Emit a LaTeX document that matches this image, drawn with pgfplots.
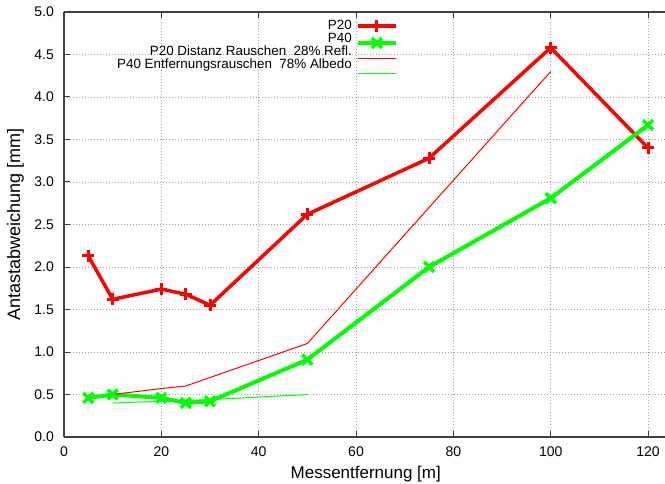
\documentclass[border=0pt]{standalone}
\usepackage{pgfplots}
\pgfplotsset{compat=1.18}
\usepackage{fontspec}
\setmainfont{Liberation Sans}
\definecolor{gpred}{RGB}{255,0,0}
\definecolor{gpgreen}{RGB}{0,255,0}
\definecolor{axgray}{RGB}{64,64,64}
\definecolor{gridgray}{RGB}{160,160,160}
\begin{document}
\begin{tikzpicture}
\begin{axis}[
  at={(0,0)}, anchor=south west, scale only axis,
  width=608.4bp, height=425bp,
  xmin=0, xmax=125, ymin=0, ymax=5,
  axis x line*=box, axis y line*=left,
  xtick={0,20,40,60,80,100,120},
  ytick={0,0.5,1,1.5,2,2.5,3,3.5,4,4.5,5},
  tick align=inside,
  major tick length=6bp,
  tick style={axgray, line width=1bp},
  axis line style={axgray, line width=1.2bp, -},
  grid=major,
  major grid style={gridgray, line width=0.8bp, dash pattern=on 1bp off 2bp},
  /pgf/number format/assume math mode=true,
  tick label style={font=\fontsize{14bp}{16bp}\selectfont},
  yticklabel style={/pgf/number format/fixed, /pgf/number format/fixed zerofill, /pgf/number format/precision=1},
  yticklabel style={anchor=east, inner sep=0pt, xshift=-10bp},
  xticklabel style={anchor=north, inner sep=0pt, yshift=-10bp},
  xlabel={Messentfernung [m]},
  ylabel={Antastabweichung [mm]},
  every axis x label/.style={at={(axis cs:62,0)}, anchor=base, yshift=-41bp, font=\fontsize{17bp}{19bp}\selectfont},
  every axis y label/.style={at={(axis description cs:-0.0723,0.5)}, rotate=90, anchor=base, font=\fontsize{18bp}{20bp}\selectfont},
  legend plot pos=left,
  legend style={at={(axis cs:68.83,4.937)}, anchor=north east, draw=none, fill=none,
    inner sep=0pt, column sep=0pt, row sep=0pt,
    nodes={inner sep=0pt, text width=0pt}},
]
\addplot[color=gpred, line width=3.5bp, mark=+, mark size=6bp, mark options={line width=3bp},
  legend image code/.code={
    \path (0bp,-6.65bp) (38bp,6.65bp);
    \draw[draw=gpred, line width=3.5bp] (0bp,0bp) -- (38bp,0bp);
    \draw[draw=gpred, line width=3bp] (19bp,-6bp) -- (19bp,6bp);}] coordinates {
  (5,2.13) (10,1.62) (20,1.74) (25,1.68) (30,1.55) (50,2.62) (75,3.28) (100,4.58) (120,3.40)};
\addlegendentry{}
\addplot[color=gpgreen, line width=4bp, mark=x, mark size=7bp, mark options={line width=3.5bp},
  legend image code/.code={
    \path (0bp,-6.65bp) (38bp,6.65bp);
    \draw[draw=gpgreen, line width=4bp] (0bp,0bp) -- (38bp,0bp);
    \draw[draw=gpgreen, line width=3.5bp] (14bp,-5bp) -- (24bp,5bp);
    \draw[draw=gpgreen, line width=3.5bp] (14bp,5bp) -- (24bp,-5bp);}] coordinates {
  (5,0.46) (10,0.50) (20,0.46) (25,0.40) (30,0.42) (50,0.91) (75,2.00) (100,2.81) (120,3.67)};
\addlegendentry{}
\addplot[color=gpred, line width=1bp,
  legend image code/.code={
    \path (0bp,-6.65bp) (38bp,6.65bp);
    \draw[draw=gpred, line width=1bp] (0bp,0bp) -- (38bp,0bp);}] coordinates {
  (10,0.50) (20,0.57) (25,0.60) (50,1.10) (100,4.30)};
\addlegendentry{}
\addplot[color=gpgreen, line width=1bp,
  legend image code/.code={
    \path (0bp,-6.65bp) (38bp,6.65bp);
    \draw[draw=gpgreen, line width=1bp] (0bp,0bp) -- (38bp,0bp);}] coordinates {
  (10,0.40) (20,0.42) (30,0.44) (50,0.50)};
\addlegendentry{}
\node[anchor=north east, align=right, inner sep=0pt,
  font=\fontsize{13.4bp}{13.3bp}\selectfont] at (axis cs:59.17,4.912)
  {P20\\P40\\P20 Distanz Rauschen\ \ 28\% Refl.\\P40 Entfernungsrauschen\ \ 78\% Albedo};
\end{axis}
\pgfresetboundingbox
\useasboundingbox (-64bp,-47bp) rectangle (601bp,437bp);
\end{tikzpicture}
\end{document}
